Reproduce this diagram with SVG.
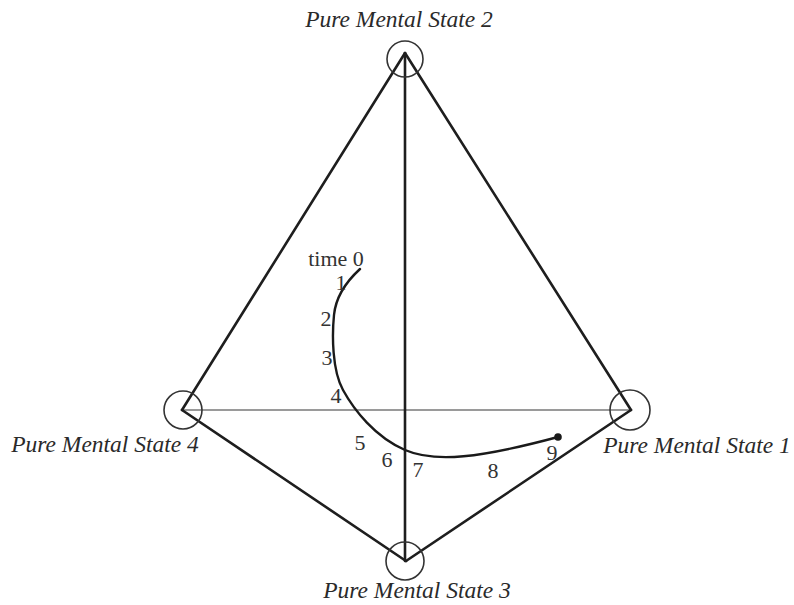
<svg xmlns="http://www.w3.org/2000/svg" width="794" height="605" viewBox="0 0 794 605">
<style>
.edge{stroke:#1e1e1e;stroke-width:2.6;fill:none;stroke-linecap:round}
.mid{stroke:#9a9a9a;stroke-width:2;fill:none}
.ring{stroke:#333;stroke-width:1.6;fill:none}
.lab{font-family:"Liberation Serif","Times New Roman",serif;font-style:italic;font-size:23.5px;fill:#2a2a2a;text-anchor:middle}
.num{font-family:"Liberation Serif","Times New Roman",serif;font-size:22px;fill:#333;text-anchor:middle}
.traj{stroke:#1a1a1a;stroke-width:2.4;fill:none;stroke-linecap:round}
</style>
<rect width="794" height="605" fill="#fff"/>
<g id="connectors">
<line class="mid" x1="182" y1="410" x2="631" y2="410"/>
<line class="edge" x1="405" y1="53" x2="182" y2="410"/>
<line class="edge" x1="405" y1="53" x2="631" y2="410"/>
<line class="edge" x1="182" y1="410" x2="406" y2="561"/>
<line class="edge" x1="631" y1="410" x2="406" y2="561"/>
<line class="edge" x1="405" y1="53" x2="405" y2="561"/>
</g>
<g id="state2">
<circle class="ring" cx="405" cy="59" r="18"/>
<text class="lab" x="399" y="27">Pure Mental State 2</text>
</g>
<g id="state4">
<circle class="ring" cx="183" cy="410" r="19"/>
<text class="lab" x="105" y="452">Pure Mental State 4</text>
</g>
<g id="state1">
<circle class="ring" cx="630" cy="410" r="20"/>
<text class="lab" x="697" y="453">Pure Mental State 1</text>
</g>
<g id="state3">
<circle class="ring" cx="405" cy="561" r="19"/>
<text class="lab" x="417" y="598">Pure Mental State 3</text>
</g>
<g id="trajectory">
<path class="traj" d="M360,269 C348,280 336,295 334,315 S332,370 343,390 S375,437 405,450 S480,458 558,437"/>
<circle cx="558" cy="437" r="3.8" fill="#1a1a1a"/>
<text class="num" x="336" y="266">time 0</text>
<text class="num" x="341" y="290">1</text>
<text class="num" x="326" y="326">2</text>
<text class="num" x="327" y="365">3</text>
<text class="num" x="336" y="403">4</text>
<text class="num" x="360" y="450">5</text>
<text class="num" x="387" y="467">6</text>
<text class="num" x="418" y="477">7</text>
<text class="num" x="493" y="478">8</text>
<text class="num" x="552" y="460">9</text>
</g>
</svg>
